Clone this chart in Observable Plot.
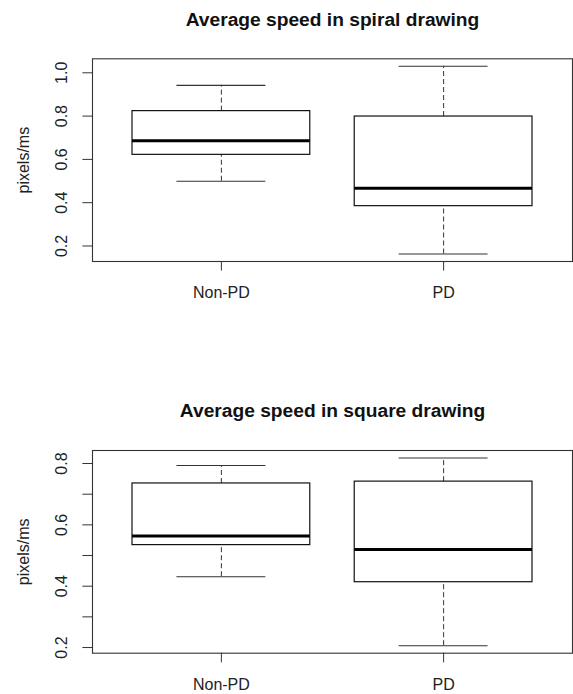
<!DOCTYPE html>
<html>
<head>
<meta charset="utf-8">
<script src="https://cdn.jsdelivr.net/npm/d3@7"></script>
<script src="https://cdn.jsdelivr.net/npm/@observablehq/plot@0.6"></script>
<style>
html, body { margin: 0; padding: 0; background: #fff; }
#chart svg { display: block; }
</style>
</head>
<body>
<div id="chart"></div>
<script>
// ---- data ----
const groups = ["Non-PD", "PD"];
const yLabel = "pixels/ms";

const spiralTitle = "Average speed in spiral drawing";
const spiralLower  = [0.499, 0.163];
const spiralQ1     = [0.621, 0.384];
const spiralMedian = [0.686, 0.467];
const spiralQ3     = [0.823, 0.798];
const spiralUpper  = [0.942, 1.030];
const spiralTicks  = [0.2, 0.4, 0.6, 0.8, 1.0];
const spiralTickLabels = ["0.2", "0.4", "0.6", "0.8", "1.0"];

const squareTitle = "Average speed in square drawing";
const squareLower  = [0.431, 0.206];
const squareQ1     = [0.534, 0.413];
const squareMedian = [0.564, 0.520];
const squareQ3     = [0.735, 0.741];
const squareUpper  = [0.7935, 0.818];
const squareTicks  = [0.2, 0.3, 0.4, 0.5, 0.6, 0.7, 0.8];
const squareTickLabels = ["0.2", "", "0.4", "", "0.6", "", "0.8"];

const FONT = "'Liberation Sans', Arial, Helvetica, sans-serif";

function panel({title, lower, q1, median, q3, upper, ticks, tickLabels, marginTop, marginBottom}) {
  const rows = groups.map((g, i) => ({
    group: g, pos: i + 1,
    lower: lower[i], q1: q1[i], median: median[i], q3: q3[i], upper: upper[i]
  }));
  const n = groups.length;
  const lo = d3.min(lower), hi = d3.max(upper), pad = (hi - lo) * 0.04;
  const xpad = n * 0.04;
  const boxHalf = 0.4, capHalf = 0.2;
  return Plot.plot({
    width: 573,
    height: 347,
    marginTop,
    marginBottom,
    marginLeft: 92,
    marginRight: 1,
    style: {fontFamily: FONT, fontSize: "16px", color: "#222", background: "#fff", overflow: "visible"},
    x: {domain: [0.5 - xpad, n + 0.5 + xpad]},
    y: {domain: [lo - pad, hi + pad]},
    marks: [
      // whiskers (dashed)
      Plot.ruleX(rows, {x: "pos", y1: "q3", y2: "upper", stroke: "#333", strokeWidth: 1, strokeDasharray: "5,3"}),
      Plot.ruleX(rows, {x: "pos", y1: "lower", y2: "q1", stroke: "#333", strokeWidth: 1, strokeDasharray: "5,3"}),
      // whisker caps
      Plot.ruleY(rows, {y: "upper", x1: d => d.pos - capHalf, x2: d => d.pos + capHalf, stroke: "#333", strokeWidth: 1.1}),
      Plot.ruleY(rows, {y: "lower", x1: d => d.pos - capHalf, x2: d => d.pos + capHalf, stroke: "#333", strokeWidth: 1.1}),
      // boxes
      Plot.rect(rows, {x1: d => d.pos - boxHalf, x2: d => d.pos + boxHalf, y1: "q1", y2: "q3", fill: "#fff", stroke: "#111", strokeWidth: 1.2}),
      // medians
      Plot.ruleY(rows, {y: "median", x1: d => d.pos - boxHalf, x2: d => d.pos + boxHalf, stroke: "#000", strokeWidth: 3}),
      // frame
      Plot.frame({stroke: "#333", strokeWidth: 1.1}),
      // axes
      Plot.axisX(groups.map((g, i) => i + 1), {
        tickFormat: d => groups[d - 1], tickSize: 9.6, tickPadding: 16,
        stroke: "#333", fill: "#222", fontSize: 16, label: null
      }),
      Plot.axisY(ticks, {
        tickFormat: (d, i) => tickLabels[i], tickSize: 9.6, tickPadding: 16,
        tickRotate: -90, textAnchor: "middle", lineAnchor: "bottom",
        stroke: "#333", fill: "#222", fontSize: 16, label: null
      }),
      // y label
      Plot.text([yLabel], {frameAnchor: "left", rotate: -90, dx: -64, textAnchor: "middle", lineAnchor: "bottom", fontSize: 16, fill: "#222"}),
      // title
      Plot.text([title], {frameAnchor: "top", dy: -33.3, textAnchor: "middle", lineAnchor: "bottom", fontSize: 19.2, fontWeight: "bold", fill: "#111"})
    ]
  });
}

const chart = document.getElementById("chart");
chart.append(
  panel({title: spiralTitle, lower: spiralLower, q1: spiralQ1, median: spiralMedian, q3: spiralQ3, upper: spiralUpper,
         ticks: spiralTicks, tickLabels: spiralTickLabels, marginTop: 58.3, marginBottom: 86}),
  panel({title: squareTitle, lower: squareLower, q1: squareQ1, median: squareMedian, q3: squareQ3, upper: squareUpper,
         ticks: squareTicks, tickLabels: squareTickLabels, marginTop: 103, marginBottom: 41.3})
);
</script>
</body>
</html>
